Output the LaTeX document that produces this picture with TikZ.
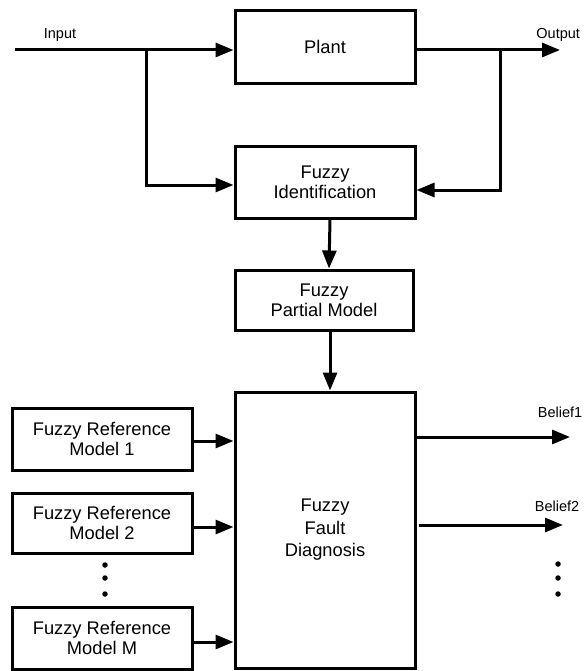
\documentclass[tikz,border=0pt]{standalone}
\usepackage{fontspec}
\setmainfont{Liberation Sans}
\usetikzlibrary{arrows.meta}
\begin{document}
\begin{tikzpicture}[x=1pt,y=-1pt,
  block/.style={draw,line width=3pt,rectangle,inner sep=0pt,align=center,
    font=\fontsize{18.3}{20}\selectfont},
  arr/.style={line width=3pt,-{Triangle[length=18pt,width=14pt]}},
  wire/.style={line width=3pt},
  lab/.style={font=\fontsize{14.5}{16}\selectfont},
  dotmark/.style={fill,circle,inner sep=0pt,minimum size=5.5pt}]
\useasboundingbox (0,0) rectangle (584,671);

% main blocks
\node[block,minimum width=180pt,minimum height=73pt] (plant) at (325,47) {Plant};
\node[block,minimum width=180pt,minimum height=71pt] (ident) at (325,182.5) {Fuzzy\\Identification};
\node[block,minimum width=178pt,minimum height=60pt] (partial) at (324,300) {Fuzzy\\Partial Model};
\node[block,minimum width=180pt,minimum height=276pt,font=\fontsize{18.3}{22.5}\selectfont] (fault) at (325,530) {Fuzzy\\Fault\\Diagnosis};

% reference models
\node[block,minimum width=180pt,minimum height=62pt] (ref1) at (102,439) {Fuzzy Reference\\Model 1};
\node[block,minimum width=180pt,minimum height=60pt] (ref2) at (102,523) {Fuzzy Reference\\Model 2};
\node[block,minimum width=180pt,minimum height=62pt] (refM) at (102,638) {Fuzzy Reference\\Model M};

% input and output signals
\coordinate (in) at (15,50);
\coordinate (bin) at (146,50);
\coordinate (out) at (560,50);
\coordinate (bout) at (500,50);
\node[lab] (inlab) at (60,35) {Input};
\node[lab,anchor=east] (outlab) at (583.5,35) {Output};

\draw[arr] (in) -- (in -| plant.west);
\draw[arr] (bin) |- ([yshift=-2.5pt]ident.west);
\draw[wire] (plant.east |- out) -- (bout);
\draw[arr] (bout) -- (out);
\draw[arr] (bout) |- ([yshift=-7.5pt]ident.east);

% identification chain
\draw[arr] ([xshift=5pt]ident.south) -- ([xshift=5pt]partial.north);
\draw[arr] ([xshift=6pt]partial.south) -- ([xshift=6pt]partial.south |- fault.north);

% reference models into diagnosis
\coordinate (r1) at ([yshift=-2pt]ref1.east);
\coordinate (r2) at ([yshift=-4pt]ref2.east);
\coordinate (rM) at ([yshift=-4pt]refM.east);
\draw[arr] (r1) -- (r1 -| fault.west);
\draw[arr] (r2) -- (r2 -| fault.west);
\draw[arr] (rM) -- (rM -| fault.west);

% beliefs
\coordinate (b1) at (570,437);
\coordinate (b2) at (563,525);
\draw[arr] (b1 -| fault.east) -- (b1);
\draw[arr] ([xshift=2pt]b2 -| fault.east) -- (b2);
\node[lab] (bl1) at (560,412) {Belief1};
\node[lab] (bl2) at (557,506) {Belief2};

% ellipsis dots
\node[dotmark] (ld1) at (105,565) {};
\node[dotmark] (ld2) at (105,578) {};
\node[dotmark] (ld3) at (105,594) {};
\node[dotmark] (rd1) at (558,564) {};
\node[dotmark] (rd2) at (558,578) {};
\node[dotmark] (rd3) at (558,594) {};
\end{tikzpicture}
\end{document}
